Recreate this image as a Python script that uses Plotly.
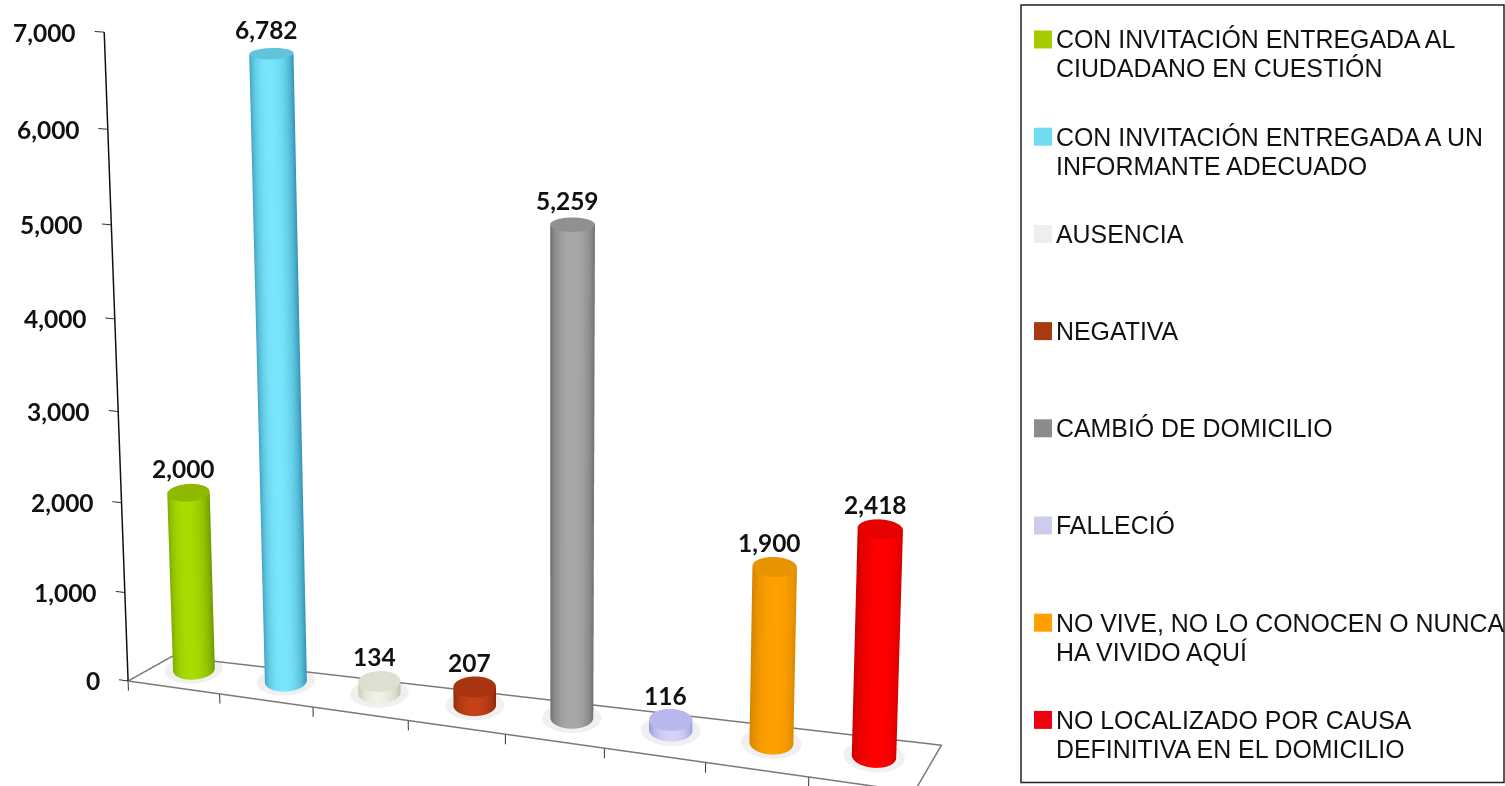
import numpy as np
import plotly.graph_objects as go

# ---------- data ----------
categories = [
    ["CON INVITACIÓN ENTREGADA AL", "CIUDADANO EN CUESTIÓN"],
    ["CON INVITACIÓN ENTREGADA A UN", "INFORMANTE ADECUADO"],
    ["AUSENCIA"],
    ["NEGATIVA"],
    ["CAMBIÓ DE DOMICILIO"],
    ["FALLECIÓ"],
    ["NO VIVE, NO LO CONOCEN O NUNCA", "HA VIVIDO AQUÍ"],
    ["NO LOCALIZADO POR CAUSA", "DEFINITIVA EN EL DOMICILIO"],
]
values = [2000, 6782, 134, 207, 5259, 116, 1900, 2418]
value_ticks = [0, 1000, 2000, 3000, 4000, 5000, 6000, 7000]
legend_colors = ["#a6cc00", "#6fdcf2", "#eeeeee", "#a83a12", "#8c8c8c", "#ccccec", "#ff9f00", "#ee0010"]
edge_colors = ["#6f9800", "#2f8fb0", "#bcc0ac", "#842606", "#666666", "#9292d8", "#d08200", "#c80000"]
mid_colors = ["#a8dc00", "#7ae6fd", "#eff2e4", "#c44216", "#a8a8a8", "#d4d4f8", "#ffa000", "#ff0000"]
cap_colors = ["#8fb800", "#62c4dc", "#dde0d0", "#a83410", "#909090", "#b8b8ee", "#e89400", "#e60000"]

# ---------- canvas / camera ----------
CW, CH = 1505.0, 2911.0     # drawing surface; the 3D view is centred at (VX, VY) on screen
VX, VY = 554.0, 399.0
TOP = VY - CH / 2
XR = [-0.3, 8.3]
YR = [-0.2, 1.2]
ZR = [-150, 7000]
AZ, EL = np.radians(20.5), np.radians(16.5)
DIST = 4.2
PAN = 0.036     # view centre to the right of the box centre
X_UNIT = 1.02 / 8   # scene units per category
Y_UNIT = 0.131      # scene units for the floor depth
BAR_A = 0.0263      # half width of a bar seen from the camera, scene units
BAR_B = 0.0102      # half height of a bar's end ellipse seen from the camera, scene units

floor_x = [0, 8, 7.95, 0.1, 0]
floor_y = [0, 0, 1.15, 0.75, 0]

def bar_pos(i):
    return i + 0.47 - 0.006 * i, 0.5 + 0.025 * i

fig = go.Figure()

# floor outline
fig.add_trace(go.Scatter3d(x=floor_x, y=floor_y, z=[0] * 5, mode="lines",
                           line=dict(color="#7a7a7a", width=3), hoverinfo="skip", showlegend=False))
# floor ticks
for i in range(0, 8):
    fig.add_trace(go.Scatter3d(x=[i, i], y=[0, 0], z=[0, -110], mode="lines",
                               line=dict(color="#333333", width=2), hoverinfo="skip", showlegend=False))
# value axis
fig.add_trace(go.Scatter3d(x=[0, 0], y=[0, 0], z=[0, 7000], mode="lines",
                           line=dict(color="#111111", width=3), hoverinfo="skip", showlegend=False))
for v in value_ticks:
    fig.add_trace(go.Scatter3d(x=[-0.10, 0], y=[0, 0], z=[v, v], mode="lines",
                               line=dict(color="#333333", width=2), hoverinfo="skip", showlegend=False))

# cross-section chosen so that the bar ends look like level ellipses from the camera
t = np.linspace(0, 2 * np.pi, 73)
u = BAR_A * np.cos(t)
w = BAR_B / np.sin(EL) * np.sin(t)
ring_x = (u * np.cos(AZ) - w * np.sin(AZ)) / X_UNIT
ring_y = (u * np.sin(AZ) + w * np.cos(AZ)) / Y_UNIT
shade = np.abs(np.sin(t)) ** 1.2
flat = dict(ambient=1, diffuse=0, specular=0, fresnel=0)
for i, v in enumerate(values):
    cx, cy = bar_pos(i)
    rr = np.array([0, 1.38])
    fig.add_trace(go.Surface(
        x=cx + np.outer(rr, ring_x), y=cy + np.outer(rr, ring_y),
        z=np.full((2, t.size), 0.0), surfacecolor=np.zeros((2, t.size)),
        colorscale=[[0, "#c4c4c4"], [1, "#c4c4c4"]], showscale=False, opacity=0.25,
        lighting=flat, hoverinfo="skip"))
    sx, sy = cx + ring_x, cy + ring_y
    fig.add_trace(go.Surface(
        x=np.vstack([sx, sx]), y=np.vstack([sy, sy]),
        z=np.vstack([np.zeros_like(t), np.full_like(t, v, dtype=float)]),
        surfacecolor=np.vstack([shade, shade]), cmin=0, cmax=1,
        colorscale=[[0, edge_colors[i]], [1, mid_colors[i]]], showscale=False,
        lighting=flat, hoverinfo="skip"))
    rr = np.array([0, 1.0])
    fig.add_trace(go.Surface(
        x=cx + np.outer(rr, ring_x), y=cy + np.outer(rr, ring_y),
        z=np.full((2, t.size), float(v)), surfacecolor=np.zeros((2, t.size)),
        colorscale=[[0, cap_colors[i]], [1, cap_colors[i]]], showscale=False,
        lighting=flat, hoverinfo="skip"))

LABEL_FONT = dict(family="Lato", size=24.5, color="#111111", weight="bold")
scene_ann = []
for v in value_ticks:
    scene_ann.append(dict(x=0, y=0, z=v, text=f"{v:,}", showarrow=False, xanchor="right",
                          yanchor="middle", xshift=-26, font=LABEL_FONT))
for i, v in enumerate(values):
    cx, cy = bar_pos(i)
    scene_ann.append(dict(x=cx, y=cy, z=v, text=f"{v:,}", showarrow=False, xanchor="center",
                          yanchor="bottom", yshift=8, xshift=-5, font=LABEL_FONT))

axis_off = dict(visible=False, showspikes=False)
px_off = dict(x=PAN * np.cos(AZ), y=PAN * np.sin(AZ), z=0)
fig.update_layout(
    width=CW, height=CH, margin=dict(l=0, r=0, t=0, b=0),
    paper_bgcolor="white", plot_bgcolor="white", showlegend=False,
    scene=dict(
        domain=dict(x=[0, 2 * VX / CW], y=[0, 1]),
        xaxis=dict(range=XR, **axis_off),
        yaxis=dict(range=YR, **axis_off),
        zaxis=dict(range=ZR, **axis_off),
        aspectmode="manual",
        aspectratio=dict(x=(XR[1] - XR[0]) * X_UNIT, y=(YR[1] - YR[0]) * Y_UNIT,
                         z=0.827 * (ZR[1] - ZR[0]) / 7000),
        camera=dict(
            projection=dict(type="perspective"),
            center=px_off,
            eye=dict(x=px_off["x"] + DIST * np.sin(AZ) * np.cos(EL),
                     y=px_off["y"] - DIST * np.cos(AZ) * np.cos(EL),
                     z=DIST * np.sin(EL)),
            up=dict(x=0, y=0, z=1),
        ),
        bgcolor="white",
        annotations=scene_ann,
    ),
)

# ---------- legend panel ----------
def px(x): return x / CW
def py(y): return 1 - (y - TOP) / CH

fig.add_shape(type="rect", xref="paper", yref="paper", x0=px(1021), x1=px(1504), y0=py(782), y1=py(4.5),
              line=dict(color="#222222", width=1.5), fillcolor="white")
LEG_TOP, LEG_PITCH, LINE_H = 39.0, 97.2, 29.0
for i, lines in enumerate(categories):
    yy = LEG_TOP + i * LEG_PITCH
    fig.add_shape(type="rect", xref="paper", yref="paper", x0=px(1034), x1=px(1052),
                  y0=py(yy + 9), y1=py(yy - 9), line=dict(width=0), fillcolor=legend_colors[i])
    for j, t_line in enumerate(lines):
        fig.add_annotation(xref="paper", yref="paper", x=px(1054), y=py(yy + j * LINE_H), text=t_line,
                           showarrow=False, xanchor="left", yanchor="middle",
                           font=dict(family="Liberation Sans", size=24.9, color="#111111"))

POST = ("document.documentElement.style.overflow='hidden';"
        "document.body.style.overflow='hidden';document.body.style.margin='0';"
        "var g=document.querySelector('.plotly-graph-div');"
        f"g.style.position='absolute';g.style.left='0px';g.style.top='{TOP}px';")
fig.write_html("out.html", config=dict(displayModeBar=False), post_script=POST)
